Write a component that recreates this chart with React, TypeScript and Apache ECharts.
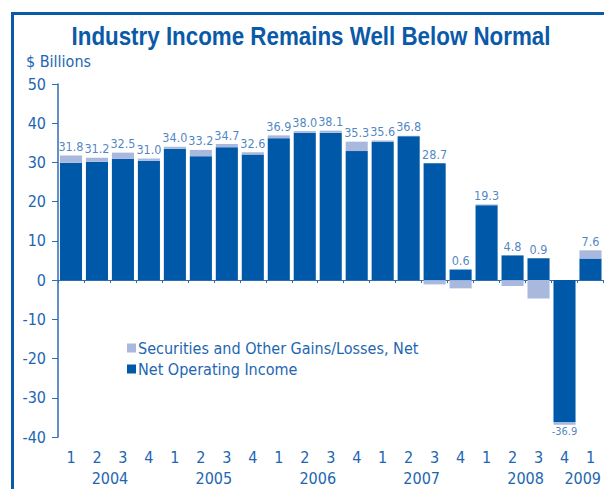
import React, { useEffect, useRef } from 'react';
import * as echarts from 'echarts';

const quarters = ['1', '2', '3', '4', '1', '2', '3', '4', '1', '2', '3', '4', '1', '2', '3', '4', '1', '2', '3', '4', '1'];
const quarterYears = ['2004', '2004', '2004', '2004', '2005', '2005', '2005', '2005', '2006', '2006', '2006', '2006', '2007', '2007', '2007', '2007', '2008', '2008', '2008', '2008', '2009'];
const years = ['2004', '2005', '2006', '2007', '2008', '2009'];
const netOperatingIncome = [29.9, 30.2, 30.9, 30.4, 33.5, 31.6, 33.9, 32.0, 36.2, 37.6, 37.6, 32.9, 35.2, 36.7, 29.8, 2.7, 19.1, 6.3, 5.6, -36.2, 5.5];
const securitiesGains = [1.9, 1.0, 1.6, 0.6, 0.5, 1.6, 0.8, 0.6, 0.7, 0.4, 0.5, 2.4, 0.4, 0.1, -1.1, -2.1, 0.2, -1.5, -4.7, -0.7, 2.1];
const totals = [31.8, 31.2, 32.5, 31.0, 34.0, 33.2, 34.7, 32.6, 36.9, 38.0, 38.1, 35.3, 35.6, 36.8, 28.7, 0.6, 19.3, 4.8, 0.9, -36.9, 7.6];
const yTicks = { min: -40, max: 50, interval: 10 };

const TITLE = 'Industry Income Remains Well Below Normal';
const SEC_NAME = 'Securities and Other Gains/Losses, Net';
const NOI_NAME = 'Net Operating Income';
const FONT = "'DejaVu Sans Condensed', 'Liberation Sans Narrow', sans-serif";
const DARK = '#0059a8';
const LIGHT = '#a9b8dd';
const TEXT = '#1d66b2';
const FRAME = '#0a5aa8';

export default function App() {
  const ref = useRef<HTMLDivElement>(null);
  useEffect(() => {
    if (!ref.current) return;
    const chart = echarts.init(ref.current, undefined, { renderer: 'svg' });
    const n = quarters.length;
    const yearPos = years.map((y) => {
      const first = quarterYears.indexOf(y);
      const count = quarterYears.filter((q) => q === y).length;
      return Math.min(first + count / 2, n - 0.8);
    });
    const labelData = totals.map((t, i) => {
      const pos = Math.max(netOperatingIncome[i], 0) + Math.max(securitiesGains[i], 0);
      const neg = Math.min(netOperatingIncome[i], 0) + Math.min(securitiesGains[i], 0);
      return {
        value: [i, t >= 0 ? pos : neg],
        label: { position: t >= 0 ? 'top' : 'bottom', fontSize: t >= 0 ? 12.5 : 11, distance: t >= 0 ? 2 : 1 },
      };
    });
    chart.setOption({
      animation: false,
      graphic: [
        { type: 'rect', x: 11, y: 12, shape: { width: 593, height: 3 }, style: { fill: FRAME } },
        { type: 'rect', x: 11, y: 12, shape: { width: 3, height: 477 }, style: { fill: FRAME } },
        { type: 'text', x: 26, y: 53, style: { text: '$ Billions', font: `16px ${FONT}`, fill: TEXT } },
        {
          type: 'text',
          x: 311,
          y: 36,
          scaleX: 0.86,
          style: {
            text: TITLE,
            font: "bold 26px 'Liberation Sans', Arial, sans-serif",
            fill: FRAME,
            align: 'center',
            verticalAlign: 'middle',
          },
        },
      ],
      legend: {
        orient: 'vertical',
        left: 122,
        top: 335,
        itemWidth: 9,
        itemHeight: 9,
        itemGap: 5,
        icon: 'rect',
        data: [SEC_NAME, NOI_NAME],
        textStyle: { fontFamily: FONT, fontSize: 16, color: TEXT, padding: [0, 0, 0, -3] },
      },
      grid: { left: 58, right: 0, top: 84, bottom: 52 },
      xAxis: [
        {
          type: 'category',
          data: quarters,
          axisLine: { onZero: true, lineStyle: { color: '#2f6db5', width: 1 } },
          axisTick: { show: true, length: 3, lineStyle: { color: '#2f6db5' } },
          axisLabel: { show: false },
        },
        {
          type: 'category',
          data: quarters,
          position: 'bottom',
          axisLine: { show: false, onZero: false },
          axisTick: { show: false },
          axisLabel: { margin: 12, fontFamily: FONT, fontSize: 16, color: TEXT },
        },
        {
          type: 'value',
          min: 0,
          max: n,
          position: 'bottom',
          axisLine: { show: false, onZero: false },
          axisTick: { show: false },
          splitLine: { show: false },
          axisLabel: {
            customValues: yearPos,
            margin: 33,
            fontFamily: FONT,
            fontSize: 16,
            color: TEXT,
            formatter: (v: number) => {
              const idx = yearPos.findIndex((p) => Math.abs(p - v) < 1e-6);
              return idx >= 0 ? years[idx] : '';
            },
          },
        },
      ],
      yAxis: {
        type: 'value',
        min: yTicks.min,
        max: yTicks.max,
        interval: yTicks.interval,
        axisLine: { show: true, lineStyle: { color: '#2f6db5', width: 1.5 } },
        axisTick: { show: true, length: 6, lineStyle: { color: '#2f6db5' } },
        splitLine: { show: false },
        axisLabel: { margin: 12, fontFamily: FONT, fontSize: 16, color: TEXT },
      },
      series: [
        {
          name: NOI_NAME,
          type: 'bar',
          stack: 'total',
          data: netOperatingIncome,
          barCategoryGap: '15%',
          itemStyle: { color: DARK },
        },
        {
          name: SEC_NAME,
          type: 'bar',
          stack: 'total',
          data: securitiesGains,
          barCategoryGap: '15%',
          itemStyle: { color: LIGHT },
        },
        {
          name: 'totals',
          type: 'scatter',
          data: labelData,
          symbolSize: 1,
          itemStyle: { color: 'rgba(0,0,0,0)' },
          label: {
            show: true,
            fontFamily: FONT,
            color: TEXT,
            formatter: (p: any) => totals[p.dataIndex].toFixed(1),
          },
          z: 5,
        },
      ],
    });
    return () => chart.dispose();
  }, []);
  return <div ref={ref} style={{ position: 'fixed', left: 0, top: 0, width: 604, height: 489, background: '#fff' }} />;
}
